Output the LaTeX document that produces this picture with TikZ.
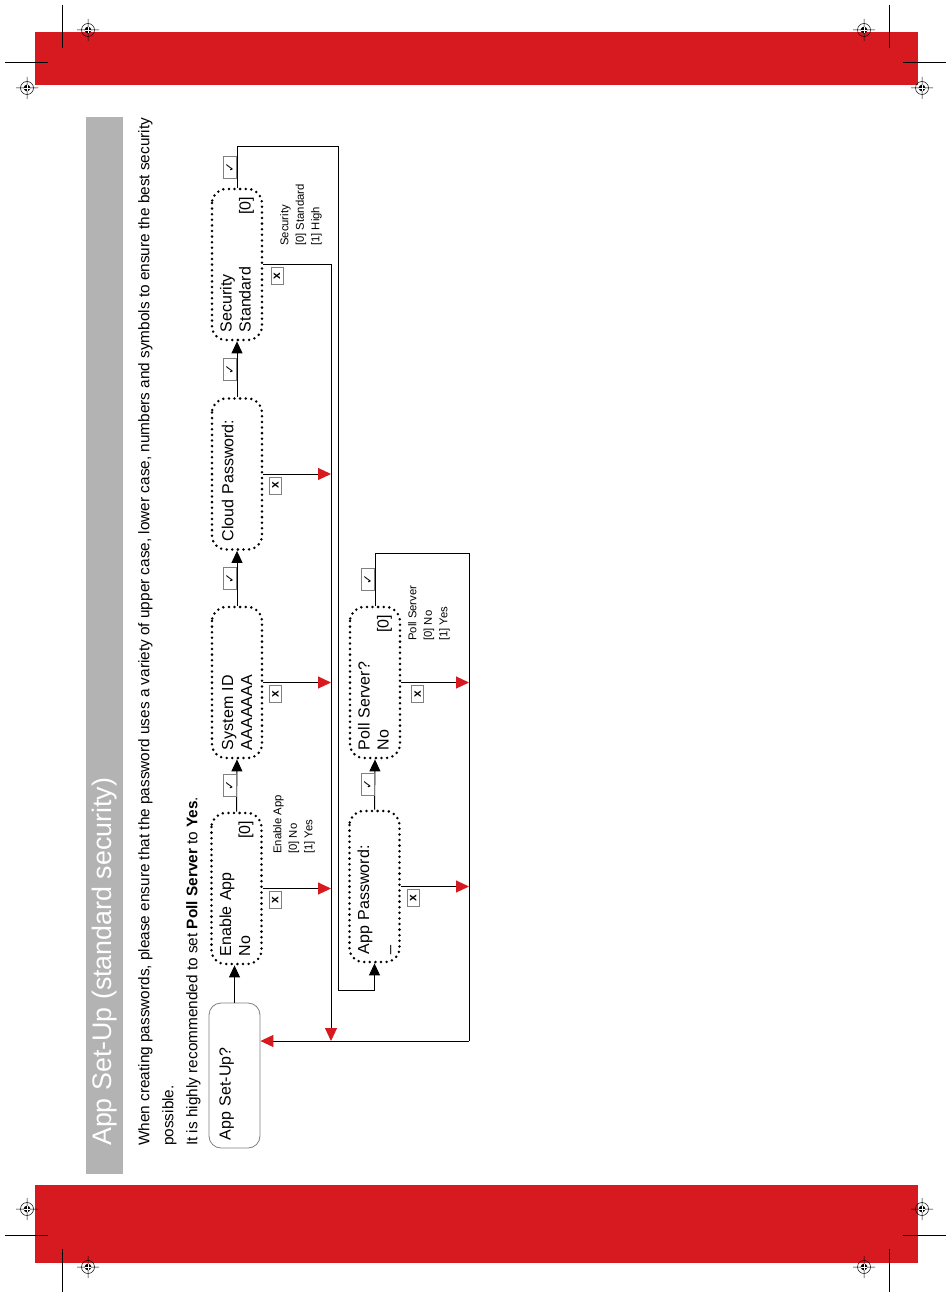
\documentclass[tikz,border=0pt]{standalone}
\usepackage{fontspec}
\setmainfont{Liberation Sans}
\newfontfamily\tickfont{DejaVu Sans}
\usetikzlibrary{
  arrows.meta,
  positioning
}
\definecolor{red}{HTML}{D71920}
\definecolor{band}{HTML}{B3B3B3}
\definecolor{frame}{HTML}{808080}
\tikzset{
  lcd/.style={
    draw,
    rotate=90,
    rounded corners=14pt,
    line width=2.8pt,
    dash pattern=on 0pt off 5.6pt,
    line cap=round,
    minimum width=151pt,
    minimum height=50pt,
    text width=135pt,
    inner xsep=8pt,
    align=left,
    font=\fontsize{16}{19}\selectfont
  },
  menu/.style={lcd, draw=frame, solid, line width=.8pt, rounded corners=12pt,
    minimum width=145pt, minimum height=51pt, text width=129pt},
  tickbox/.style={
    draw=frame,
    line width=.6pt,
    rotate=90,
    minimum width=22pt,
    minimum height=13pt,
    inner sep=0pt,
    font=\tickfont\fontsize{12}{12}\selectfont
  },
  crossbox/.style={tickbox, minimum width=17pt, minimum height=12pt,
    outer xsep=3pt, font=\bfseries\fontsize{12}{12}\selectfont},
  note/.style={rotate=90, anchor=north west, align=left, inner sep=0pt,
    font=\fontsize{11.3}{15.5}\selectfont},
  wire/.style={line width=1pt},
  okarrow/.style={wire, -{Triangle[length=12pt,width=11pt]}},
  exitarrow/.style={wire, -{Triangle[length=13pt,width=12pt,color=red]}},
  cropline/.style={line width=.6pt},
  regmark/.pic={
    \draw[line width=.5pt] (0,0) circle (6.5) (-11,0) -- (11,0) (0,-11) -- (0,11);
    \fill (0,0) circle (3.3);
    \draw[white, line width=.7pt] (-3.3,0) -- (3.3,0) (0,-3.3) -- (0,3.3);
  }
}
\begin{document}
\begin{tikzpicture}[x=1pt, y=-1pt]
  \useasboundingbox (0,0) rectangle (950,1297);
  \fill[white] (0,0) rectangle (950,1297);

  % page furniture
  \fill[red] (35,32) rectangle (918,85);
  \fill[red] (35,1185) rectangle (918,1263);
  \foreach \x in {62,889} {
    \draw[cropline] (\x,5) -- (\x,48);
    \draw[cropline] (\x,1249) -- (\x,1292);
  }
  \foreach \y in {62,1235} {
    \draw[cropline] (5,\y) -- (48,\y);
    \draw[cropline] (903,\y) -- (946,\y);
  }
  \foreach \p in {(88,30),(864,30),(27,88),(922,88),
                  (27,1209),(922,1209),(88,1267),(864,1267)}
    \pic at \p {regmark};

  \fill[band] (86,117) rectangle (123,1174);
  \node[rotate=90, anchor=west, inner sep=0pt, text=white,
        font=\fontsize{26.8}{30}\selectfont] (title) at (105,1146)
    {App Set-Up (standard security)};
  \node[rotate=90, anchor=north west, inner sep=0pt, align=left,
        font=\fontsize{15.35}{24}\selectfont] (intro) at (138,1146)
    {When creating passwords, please ensure that the password uses a variety of upper case, lower case, numbers and symbols to ensure the best security\\
     possible.\\
     It is highly recommended to set \textbf{Poll Server} to \textbf{Yes}.};

  % menu screens
  \node[menu] (setup) at (234.5,1075.5) {App Set-Up?\\\mbox{}};
  \node[lcd] (enable) at (236.5,888.5) {Enable App\\No\hfill[0]};
  \node[lcd] (sysid) at (237,682.5) {System ID\\AAAAAAA};
  \node[lcd] (cloud) at (237,474) {Cloud Password:\\\mbox{}};
  \node[lcd] (security) at (237,264.5) {Security\\Standard\hfill[0]};
  \node[lcd] (apppw) at (374.5,886.5) {App Password:\\\_};
  \node[lcd] (poll) at (375,682.5) {Poll Server?\\No\hfill[0]};

  \node[note] (enablenote) at (273,854) {Enable App\\{}[0] No\\{}[1] Yes};
  \node[note] (securitynote) at (280,246) {Security\\{}[0] Standard\\{}[1] High};
  \node[note] (pollnote) at (408,641) {Poll Server\\{}[0] No\\{}[1] Yes};

  \coordinate (drop) at (331,1041);
  \coordinate (back) at (469,1041);
  \coordinate (sectop) at (338,147);
  \coordinate (secdown) at (338,990);
  \coordinate (pollturn) at (469,553);

  % accept path
  \draw[okarrow] (setup.east) -- (setup.east |- enable.west);
  \draw[okarrow] (enable.east) -- node[tickbox, anchor=south] {✓} (sysid.west);
  \draw[okarrow] (sysid.east) -- node[tickbox, anchor=south] {✓} (cloud.west);
  \draw[okarrow] (cloud.east) -- node[tickbox, anchor=south] {✓} (security.west);
  \draw[okarrow] (security.east) |- node[tickbox, pos=.25, anchor=south] {✓} (sectop)
    -- (secdown) -| (apppw.west);
  \draw[okarrow] (apppw.east) -- node[tickbox, anchor=south] {✓} (poll.west);
  \draw[wire] (poll.east) |- node[tickbox, pos=.25, anchor=south] {✓} (pollturn)
    -- (back);

  % exit path
  \draw[exitarrow] (enable.south) -- node[crossbox, pos=.18, anchor=east] {x}
    (enable.south -| drop);
  \draw[exitarrow] (sysid.south) -- node[crossbox, pos=.18, anchor=east] {x}
    (sysid.south -| drop);
  \draw[exitarrow] (cloud.south) -- node[crossbox, pos=.18, anchor=east] {x}
    (cloud.south -| drop);
  \draw[exitarrow] (security.south) -| node[crossbox, pos=.1, anchor=east] {x} (drop);
  \draw[exitarrow] (apppw.south) -- node[crossbox, pos=.18, anchor=east] {x}
    (apppw.south -| back);
  \draw[exitarrow] (poll.south) -- node[crossbox, pos=.24, anchor=east] {x}
    (poll.south -| back);
  \draw[exitarrow] (back) -- (back -| setup.south);
\end{tikzpicture}
\end{document}
